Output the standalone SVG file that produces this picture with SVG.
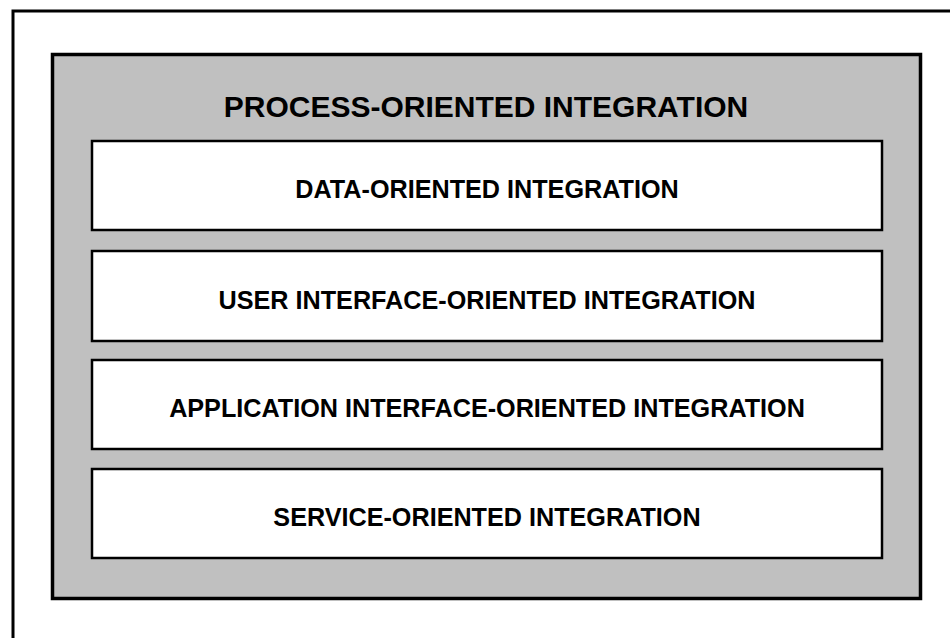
<svg xmlns="http://www.w3.org/2000/svg" width="950" height="638" viewBox="0 0 950 638">
  <style>
    .frame { fill: #ffffff; stroke: #000000; stroke-width: 3; }
    .outer { fill: #c0c0c0; stroke: #000000; stroke-width: 3.5; }
    .layer { fill: #ffffff; stroke: #000000; stroke-width: 2.5; }
    .title { font-family: "Liberation Sans", Arial, sans-serif; font-weight: bold; font-size: 30px; text-anchor: middle; fill: #000000; }
    .label { font-family: "Liberation Sans", Arial, sans-serif; font-weight: bold; font-size: 25.2px; text-anchor: middle; fill: #000000; }
  </style>
  <rect x="0" y="0" width="950" height="638" fill="#ffffff"/>
  <!-- page frame, open to the right and bottom -->
  <rect class="frame" x="13" y="11" width="960" height="660"/>
  <g id="process-oriented">
    <rect class="outer" x="52.5" y="54.5" width="868" height="544"/>
    <text class="title" x="486" y="116.5">PROCESS-ORIENTED INTEGRATION</text>
  </g>
  <g id="data-oriented">
    <rect class="layer" x="92" y="141" width="790" height="89"/>
    <text class="label" x="487" y="197.5">DATA-ORIENTED INTEGRATION</text>
  </g>
  <g id="user-interface-oriented">
    <rect class="layer" x="92" y="251" width="790" height="90"/>
    <text class="label" x="487" y="308.5">USER INTERFACE-ORIENTED INTEGRATION</text>
  </g>
  <g id="application-interface-oriented">
    <rect class="layer" x="92" y="360" width="790" height="89"/>
    <text class="label" x="487" y="417">APPLICATION INTERFACE-ORIENTED INTEGRATION</text>
  </g>
  <g id="service-oriented">
    <rect class="layer" x="92" y="469" width="790" height="89"/>
    <text class="label" x="487" y="526">SERVICE-ORIENTED INTEGRATION</text>
  </g>
  <g id="connectors"></g>
</svg>
